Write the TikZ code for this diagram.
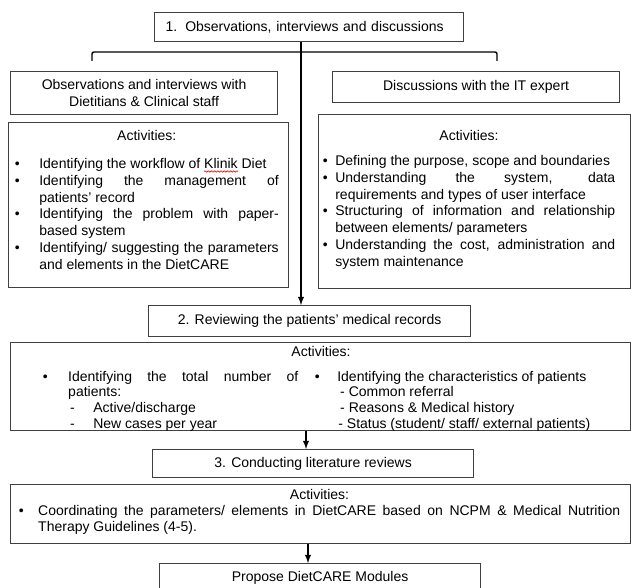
\documentclass[tikz,border=0pt]{standalone}
\usepackage{fontspec}
\setmainfont{Liberation Sans}
\usetikzlibrary{decorations.pathmorphing}
\tikzset{
  box/.style={draw=black!75, line width=0.9pt, inner sep=0pt, align=center,
    font=\fontsize{10.5}{12.6}\selectfont},
  boxsize/.style 2 args={minimum width=#1*0.75pt, minimum height=#2*0.75pt},
  acts/.style={inner sep=0pt, anchor=north west, align=justify,
    font=\fontsize{10.5}{12.6}\selectfont,
    execute at begin node={\sloppy\hyphenpenalty=10000 }},
  link/.style={black, line width=1.1pt},
}
% bullet list with the bullet flush left and no extra spacing
\newenvironment{actlist}[1]{\begin{list}{\textbullet}{%
    \setlength{\leftmargin}{#1}\setlength{\labelwidth}{#1}\setlength{\labelsep}{0pt}%
    \setlength{\itemindent}{0pt}\setlength{\listparindent}{0pt}%
    \setlength{\itemsep}{0pt}\setlength{\parsep}{0pt}%
    \setlength{\topsep}{0pt}\setlength{\partopsep}{0pt}%
    \renewcommand{\makelabel}[1]{##1\hfil}}%
  \spaceskip=\fontdimen2\font plus \fontdimen3\font\relax}{\end{list}}

\begin{document}
\begin{tikzpicture}[x=0.75pt, y=-0.75pt]
\useasboundingbox (0,0) rectangle (631,588);

% 1. observations, interviews and discussions
\node[box, boxsize={309}{29}, anchor=north west, inner xsep=8.25pt, text width=215.25pt, align=left] (obs) at (154,12)
  {1.\hspace{6pt}Observations, interviews and discussions};
\node[box, boxsize={267}{43}, anchor=north west] (diet) at (10,71)
  {Observations and interviews with\\Dietitians \& Clinical staff};
\node[box, boxsize={287}{31}, anchor=north west] (itexp) at (332,71)
  {Discussions with the IT expert};

\node[box, boxsize={280}{165}, anchor=north west] (actdiet) at (8,122) {};
\node[acts, text width=198pt] (diettxt) at (14.5,130) {{\centering Activities:\par}\vspace{8.4pt}
  \begin{actlist}{18.4pt}
  \item Identifying the workflow of Klinik Diet
  \item Identifying the management of patients' record
  \item Identifying the problem with paper-based system
  \item Identifying/ suggesting the parameters and elements in the DietCARE
  \end{actlist}};
% spelling mark under Klinik
\draw[red, line width=0.5pt, decorate, decoration={snake, amplitude=0.5pt, segment length=2.4pt}]
  (204,171.5) -- (238,171.5);

\node[box, boxsize={312}{174}, anchor=north west] (actit) at (318,114) {};
\node[acts, text width=219.4pt] (ittxt) at (322.5,130) {{\centering Activities:\par}\vspace{6.2pt}
  \begin{actlist}{9.4pt}
  \item Defining the purpose, scope and boundaries
  \item Understanding the system, data requirements and types of user interface
  \item Structuring of information and relationship between elements/ parameters
  \item Understanding the cost, administration and system maintenance
  \end{actlist}};

% 2. medical records
\node[box, boxsize={322}{31}, anchor=north west] (review) at (148,305)
  {2. Reviewing the patients’ medical records};
\node[box, boxsize={620}{88}, anchor=north west] (actrev) at (10,342) {};
\node[acts, anchor=north, align=center] (revhead) at (321,346) {Activities:};
\node[acts, text width=191.6pt, font=\fontsize{10.5}{11.8}\selectfont] (revleft) at (42.5,365) {%
  \begin{actlist}{19.1pt}
  \item Identifying the total number of patients:\par
    \hspace*{1.5pt}\makebox[17.3pt][l]{-}Active/discharge\par
    \hspace*{1.5pt}\makebox[17.3pt][l]{-}New cases per year
  \end{actlist}};
\node[acts, text width=214.1pt, font=\fontsize{10.5}{11.8}\selectfont] (revright) at (314.5,365) {%
  \begin{actlist}{16.9pt}
  \item Identifying the characteristics of patients\par
    \hspace*{2.2pt}- Common referral\par
    \hspace*{2.2pt}- Reasons \& Medical history\par
    \hspace*{0.8pt}- Status (student/ staff/ external patients)
  \end{actlist}};

% 3. literature
\node[box, boxsize={321}{28}, anchor=north west] (lit) at (152,449)
  {3. Conducting literature reviews};
\node[box, boxsize={620}{59}, anchor=north west] (actlit) at (10,484) {};
\node[acts, text width=451.1pt, font=\fontsize{10.5}{12}\selectfont] (littxt) at (18.5,489) {{\centering Activities:\par}
  \begin{actlist}{14.6pt}
  \item Coordinating the parameters/ elements in DietCARE based on NCPM \& Medical Nutrition Therapy Guidelines (4-5).
  \end{actlist}};

\node[box, boxsize={321}{29}, anchor=north west] (propose) at (159,563)
  {Propose DietCARE Modules};

% connectors
\coordinate (split) at (301,52);
\coordinate (brl) at (92,61);
\coordinate (brr) at (497,61);
\coordinate (a2) at (306,0);
\coordinate (a3) at (308,0);
\draw[link, -latex] (obs.south -| split) -- (review.north -| split);
\draw[link, rounded corners=1.5pt] (brl) |- (split) -| (brr);
\draw[link, -latex] (actrev.south -| a2) -- (lit.north -| a2);
\draw[link, -latex] (actlit.south -| a3) -- (propose.north -| a3);
\end{tikzpicture}
\end{document}
